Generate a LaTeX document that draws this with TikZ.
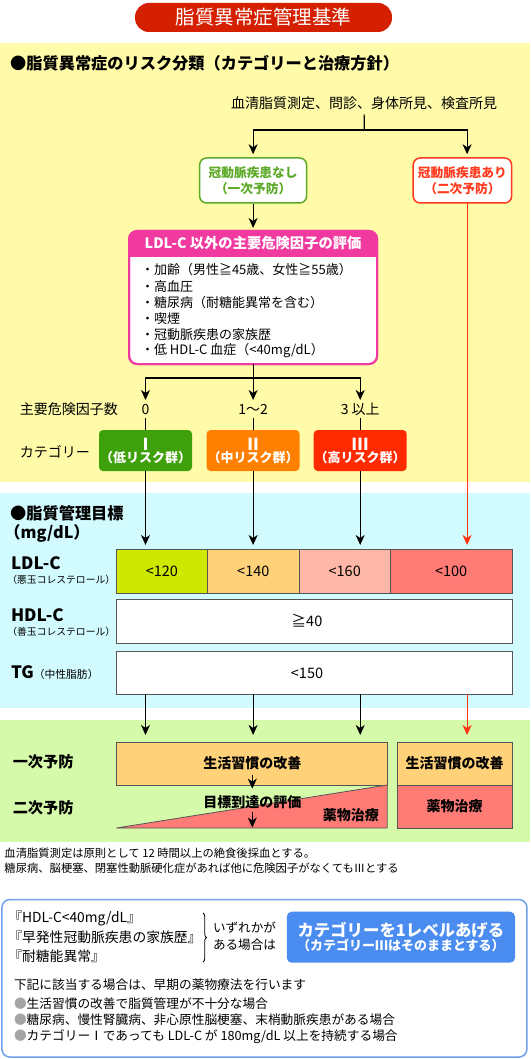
\documentclass[tikz,border=0pt]{standalone}
\usepackage{fontspec}
\setmainfont{Noto Sans CJK JP}
\usetikzlibrary{arrows.meta,decorations.pathreplacing}
\newcommand\setfs[2]{\fontsize{#1}{#2}\selectfont}
\definecolor{titlered}{RGB}{212,32,0}
\definecolor{ybg}{RGB}{255,251,168}
\definecolor{cbg}{RGB}{210,251,255}
\definecolor{gbg}{RGB}{213,250,170}
\definecolor{nashig}{RGB}{92,170,40}
\definecolor{arir}{RGB}{255,58,30}
\definecolor{pinkc}{RGB}{240,58,160}
\definecolor{catone}{RGB}{62,160,10}
\definecolor{cattwo}{RGB}{255,128,0}
\definecolor{catthree}{RGB}{255,42,0}
\definecolor{ldlone}{RGB}{206,232,0}
\definecolor{ldltwo}{RGB}{255,210,122}
\definecolor{ldlthree}{RGB}{255,184,168}
\definecolor{ldlfour}{RGB}{255,123,118}
\definecolor{boxgray}{RGB}{85,85,85}
\definecolor{bluebox}{RGB}{74,140,240}
\definecolor{blueline}{RGB}{110,160,235}
\definecolor{bulletgray}{RGB}{165,165,165}
\definecolor{redline}{RGB}{255,50,20}
\begin{document}
\begin{tikzpicture}[x=1pt,y=-1pt,
  arr/.style={line width=1.2pt,-{Stealth[length=10pt,width=9pt,inset=3pt]}},
  redarr/.style={draw=redline,line width=1pt,-{Stealth[length=10pt,width=9pt,inset=3pt]}},
  ln/.style={line width=1.2pt},
  lbl/.style={inner sep=0pt,outer sep=0pt},
  cell/.style={draw=boxgray,line width=0.8pt,inner sep=0pt,outer sep=0pt},
  catbox/.style={rounded corners=4pt,minimum width=93pt,minimum height=41pt,text=white,
    font=\bfseries,align=center,inner sep=0pt,outer sep=0pt},
  cnt/.style={lbl,text height=10pt,text depth=0pt,font=\setfs{14}{15}},
  prevbox/.style={draw,line width=1.5pt,fill=white,rounded corners=7pt,minimum height=45pt,
    inner sep=0pt,font=\bfseries\setfs{12.7}{16.5},align=center},
  bodytxt/.style={lbl,anchor=west,font=\setfs{12.7}{13}},
  itemtxt/.style={lbl,anchor=west,font=\setfs{13}{14}},
  bigt/.style={lbl,font=\bfseries\setfs{14}{15}}
]
\useasboundingbox (0,0) rectangle (530,1059);
% backgrounds
\fill[ybg] (0,43) rectangle (530,482);
\fill[cbg] (0,493) rectangle (530,708);
\fill[gbg] (0,720) rectangle (530,842);

% title
\node[fill=titlered,rounded corners=14pt,minimum width=257pt,minimum height=29pt,inner sep=0pt,
  text=white,font=\setfs{19.5}{20}] (title) at (263.5,17.5) {脂質異常症管理基準};

% section 1
\node[lbl,anchor=west,font=\bfseries\setfs{16.2}{17}] (h1) at (10.2,63) {●脂質異常症のリスク分類（カテゴリーと治療方針）};
\node[lbl,font=\setfs{14}{15}] (src) at (364,103) {血清脂質測定、問診、身体所見、検査所見};
\coordinate (j1) at (364.3,130);
\coordinate (ariout) at (467.1,203);

\node[prevbox,draw=nashig,text=nashig,minimum width=107pt] (nashi) at (253.1,180.5) {冠動脈疾患なし\\（一次予防）};
\node[prevbox,draw=arir,text=arir,minimum width=98.4pt] (ari) at (462.4,180.5) {冠動脈疾患あり\\（二次予防）};

\draw[ln,shorten <=5pt] (src) -- (j1);
\draw[arr,shorten >=3pt] (j1) -| (nashi);
\draw[arr,shorten >=3pt] (j1) -| (ari.north -| ariout);

% risk factor box
\node[draw=pinkc,line width=2pt,fill=white,rounded corners=8pt,minimum width=248pt,minimum height=133pt,
  inner sep=0pt,outer sep=0pt] (risk) at (253.1,297.5) {};
\begin{scope}
\clip[rounded corners=8pt] (risk.south west) rectangle (risk.north east);
\fill[pinkc] (risk.north west) rectangle ([yshift=-26pt]risk.north east);
\end{scope}
\draw[pinkc,line width=2pt,rounded corners=8pt] (risk.south west) rectangle (risk.north east);
\node[lbl,text=white,font=\bfseries\setfs{14.3}{15}] (riskh) at (253.1,243.5) {LDL-C 以外の主要危険因子の評価};
\node[itemtxt] (f1) at (141,270) {・加齢（男性≧45歳、女性≧55歳）};
\node[itemtxt] (f2) at (141,286.3) {・高血圧};
\node[itemtxt] (f3) at (141,302.3) {・糖尿病（耐糖能異常を含む）};
\node[itemtxt] (f4) at (141,318.3) {・喫煙};
\node[itemtxt] (f5) at (141,334.7) {・冠動脈疾患の家族歴};
\node[itemtxt] (f6) at (141,350.7) {・低 HDL-C 血症（<40mg/dL）};

\draw[arr,shorten >=3pt] (nashi) -- (nashi |- risk.north);

% counts
\coordinate (j2) at ([yshift=-14pt]risk.south);
\node[cnt] (n0) at (145.5,409) {0};
\node[cnt] (n12) at (253.1,409) {1〜2};
\node[cnt] (n3) at (360.2,409) {3 以上};
\node[lbl,anchor=west,font=\setfs{14}{15}] (lblcount) at (19.8,409) {主要危険因子数};
\node[lbl,anchor=west,font=\setfs{14}{15}] (lblcat) at (19.8,452) {カテゴリー};
\draw[ln] (risk.south) -- (j2);
\draw[arr,shorten >=4pt] (j2) -| (n0);
\draw[arr,shorten >=4pt] (j2) -- (n12);
\draw[arr,shorten >=4pt] (j2) -| (n3);

% categories
\node[catbox,fill=catone] (cat1) at (145.5,450.5) {\setfs{16.5}{18}Ⅰ\\\setfs{13}{18}（低リスク群）};
\node[catbox,fill=cattwo] (cat2) at (253.1,450.5) {\setfs{16.5}{18}Ⅱ\\\setfs{13}{18}（中リスク群）};
\node[catbox,fill=catthree] (cat3) at (360.2,450.5) {\setfs{16.5}{18}Ⅲ\\\setfs{13}{18}（高リスク群）};
\draw[ln,shorten <=4pt] (n0) -- (cat1);
\draw[ln,shorten <=4pt] (n12) -- (cat2);
\draw[ln,shorten <=4pt] (n3) -- (cat3);

% section 2
\node[lbl,anchor=west,font=\bfseries\setfs{16.2}{17}] (h2) at (10.2,513) {●脂質管理目標};
\node[lbl,anchor=west,font=\bfseries\setfs{16.2}{17}] (h2b) at (4.5,533) {（mg/dL）};

\node[cell,fill=ldlone,minimum width=91pt,minimum height=44pt,font=\setfs{14.5}{15}] (ldl1) at (161.9,571) {<120};
\node[cell,fill=ldltwo,minimum width=91.8pt,minimum height=44pt,font=\setfs{14.5}{15}] (ldl2) at (253.3,571) {<140};
\node[cell,fill=ldlthree,minimum width=91pt,minimum height=44pt,font=\setfs{14.5}{15}] (ldl3) at (344.7,571) {<160};
\node[cell,fill=ldlfour,minimum width=121.8pt,minimum height=44pt,font=\setfs{14.5}{15}] (ldl4) at (451.1,571) {<100};
\node[cell,fill=white,minimum width=395.6pt,minimum height=44pt] (hdl) at (314.2,621) {};
\node[lbl,font=\setfs{14.5}{15}] (hdlv) at (307,621) {≧40};
\node[cell,fill=white,minimum width=395.6pt,minimum height=43pt] (tg) at (314.2,672.5) {};
\node[lbl,font=\setfs{14.5}{15}] (tgv) at (307,673) {<150};

\node[lbl,anchor=west,font=\bfseries\setfs{17}{18}] (ldllbl) at (11,563) {LDL-C};
\node[lbl,anchor=west,font=\setfs{9.8}{10}] (ldlsub) at (7.4,580) {（悪玉コレステロール）};
\node[lbl,anchor=west,font=\bfseries\setfs{17}{18}] (hdllbl) at (11,615) {HDL-C};
\node[lbl,anchor=west,font=\setfs{9.8}{10}] (hdlsub) at (7.4,632) {（善玉コレステロール）};
\node[lbl,anchor=west] (tglbl) at (11,673) {{\bfseries\setfs{17}{18}TG}{\setfs{10.8}{12}（中性脂肪）}};

\draw[arr,shorten >=4pt] (cat1) -- (cat1 |- ldl1.north);
\draw[arr,shorten >=4pt] (cat2) -- (cat2 |- ldl1.north);
\draw[arr,shorten >=4pt] (cat3) -- (cat3 |- ldl1.north);
\draw[redarr,shorten >=4pt] (ariout) -- (ariout |- ldl4.north);

% section 3
\node[cell,fill=ldltwo,minimum width=270.8pt,minimum height=43pt] (life1) at (251.8,763.5) {};
\coordinate (tbl) at (116.4,828);
\filldraw[fill=ldlfour,draw=boxgray,line width=0.8pt] (tbl) -- (life1.south east) -- (life1.south east |- tbl) -- cycle;
\node[bigt] (kaizen1) at (252.3,763) {生活習慣の改善};
\node[bigt] (hyoka) at (252.3,802) {目標到達の評価};
\node[bigt] (yaku1) at (350.8,815) {薬物治療};
\draw[arr,shorten <=5pt,shorten >=6.7pt] (kaizen1) -- (hyoka);
\draw[arr,shorten <=3pt,shorten >=0.5pt] (hyoka) -- (hyoka |- tbl);

\node[cell,fill=ldltwo,minimum width=114.7pt,minimum height=43pt,font=\bfseries\setfs{14}{15}] (life2) at (454.6,763.5) {生活習慣の改善};
\node[cell,fill=ldlfour,minimum width=114.7pt,minimum height=43pt,font=\bfseries\setfs{14}{15}] (drug2) at (454.6,806.5) {薬物治療};

\node[lbl,anchor=west,font=\bfseries\setfs{15.2}{16}] (p1) at (12.8,762) {一次予防};
\node[lbl,anchor=west,font=\bfseries\setfs{15.2}{16}] (p2) at (12.8,808) {二次予防};

\draw[arr,shorten >=7pt] (tg.south -| cat1) -- (life1.north -| cat1);
\draw[arr,shorten >=7pt] (tg.south -| cat2) -- (life1.north -| cat2);
\draw[arr,shorten >=7pt] (tg.south -| cat3) -- (life1.north -| cat3);
\draw[redarr,shorten >=7pt] (tg.south -| ariout) -- (life2.north -| ariout);

% footnotes
\node[lbl,anchor=west,font=\setfs{11.3}{12}] (fn1) at (4.5,853) {血清脂質測定は原則として 12 時間以上の絶食後採血とする。};
\node[lbl,anchor=west,font=\setfs{11.3}{12}] (fn2) at (4.5,868) {糖尿病、脳梗塞、閉塞性動脈硬化症があれば他に危険因子がなくてもⅢとする};

% note box
\node[draw=blueline,line width=1.5pt,rounded corners=8pt,minimum width=525pt,minimum height=157.5pt,
  inner sep=0pt,outer sep=0pt] (note) at (264.4,978.3) {};
\node[lbl,anchor=west,font=\setfs{13.8}{14}] (q1) at (8.3,918) {『HDL-C<40mg/dL』};
\node[lbl,anchor=west,font=\setfs{13.8}{14}] (q2) at (8.3,937) {『早発性冠動脈疾患の家族歴』};
\node[lbl,anchor=west,font=\setfs{13.8}{14}] (q3) at (8.3,956) {『耐糖能異常』};
\coordinate (bt) at (203,913);
\coordinate (bb) at (203,962);
\draw[decorate,decoration={brace,amplitude=3.5pt},line width=0.8pt] (bt) -- (bb);
\node[lbl,anchor=west,font=\setfs{12.6}{13}] (iz1) at (213,928) {いずれかが};
\node[lbl,anchor=west,font=\setfs{12.6}{13}] (iz2) at (213,945) {ある場合は};
\node[fill=bluebox,rounded corners=5pt,minimum width=228.3pt,minimum height=51pt,inner sep=0pt,
  text=white,font=\bfseries,align=center] (up) at (400.9,937.2)
  {\setfs{16.4}{20}カテゴリーを1レベルあげる\\\setfs{13}{20}（カテゴリーⅢはそのままとする）};
\node[bodytxt] (k0) at (14,985) {下記に該当する場合は、早期の薬物療法を行います};
\node[bodytxt] (k1) at (14,1003.3) {{\color{bulletgray}●}生活習慣の改善で脂質管理が不十分な場合};
\node[bodytxt] (k2) at (14,1020) {{\color{bulletgray}●}糖尿病、慢性腎臓病、非心原性脳梗塞、末梢動脈疾患がある場合};
\node[bodytxt] (k3) at (14,1036.7) {{\color{bulletgray}●}カテゴリーⅠであっても LDL-C が 180mg/dL 以上を持続する場合};
\end{tikzpicture}
\end{document}
